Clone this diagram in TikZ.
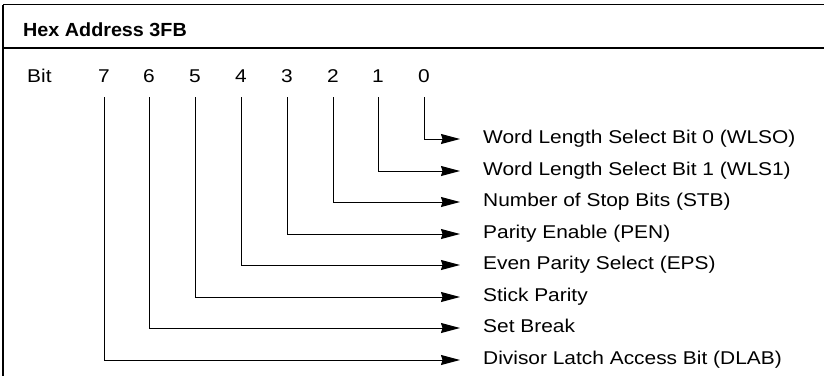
\documentclass[tikz,border=0pt]{standalone}
\usepackage{fontspec}
\setmainfont{Liberation Sans}[FakeStretch=1.13]
\newfontfamily\hdrfont{Liberation Sans}[FakeStretch=1.04]
\usetikzlibrary{arrows.meta}
\begin{document}
\begin{tikzpicture}[x=1pt,y=-1pt,
  frame/.style={line width=1.5pt},
  wire/.style={line width=1pt,-{Stealth[length=19pt,width=10pt,inset=1.5pt]},shorten >=23pt},
  bitnum/.style={inner sep=0pt,anchor=base,font=\fontsize{18.5}{21}\selectfont},
  lbl/.style={inner sep=0pt,anchor=west,text height=13pt,text depth=4pt,font=\fontsize{18.5}{21}\selectfont},
  hdr/.style={inner sep=0pt,anchor=base west,font=\fontsize{19}{22}\hdrfont\bfseries}]
\useasboundingbox (0,0) rectangle (824,376);
% frame
\draw[frame] (3,4.5) -- (824,4.5);
\draw[frame] (3,48) -- (824,48);
\draw[frame] (3,4.5) -- (3,376);
\node[hdr] (title) at (23,36) {Hex Address 3FB};
\node[bitnum,anchor=base west] (bit) at (27,82) {Bit};
% bit numbers
\foreach \n/\x in {7/104,6/149,5/195,4/241,3/287,2/333,1/378,0/424}{
  \node[bitnum] (b\n) at (\x,82) {\n};
  \coordinate (t\n) at (\x,97);
}
% labels
\node[lbl] (l0) at (483,139) {Word Length Select Bit 0 (WLSO)};
\node[lbl] (l1) at (483,171) {Word Length Select Bit 1 (WLS1)};
\node[lbl] (l2) at (483,202) {Number of Stop Bits (STB)};
\node[lbl] (l3) at (483,234) {Parity Enable (PEN)};
\node[lbl] (l4) at (483,265) {Even Parity Select (EPS)};
\node[lbl] (l5) at (483,297) {Stick Parity};
\node[lbl] (l6) at (483,328) {Set Break};
\node[lbl] (l7) at (483,360) {Divisor Latch Access Bit (DLAB)};
% connectors
\foreach \n in {0,...,7}{
  \draw[wire] (t\n) |- (l\n.west);
}
\end{tikzpicture}
\end{document}
